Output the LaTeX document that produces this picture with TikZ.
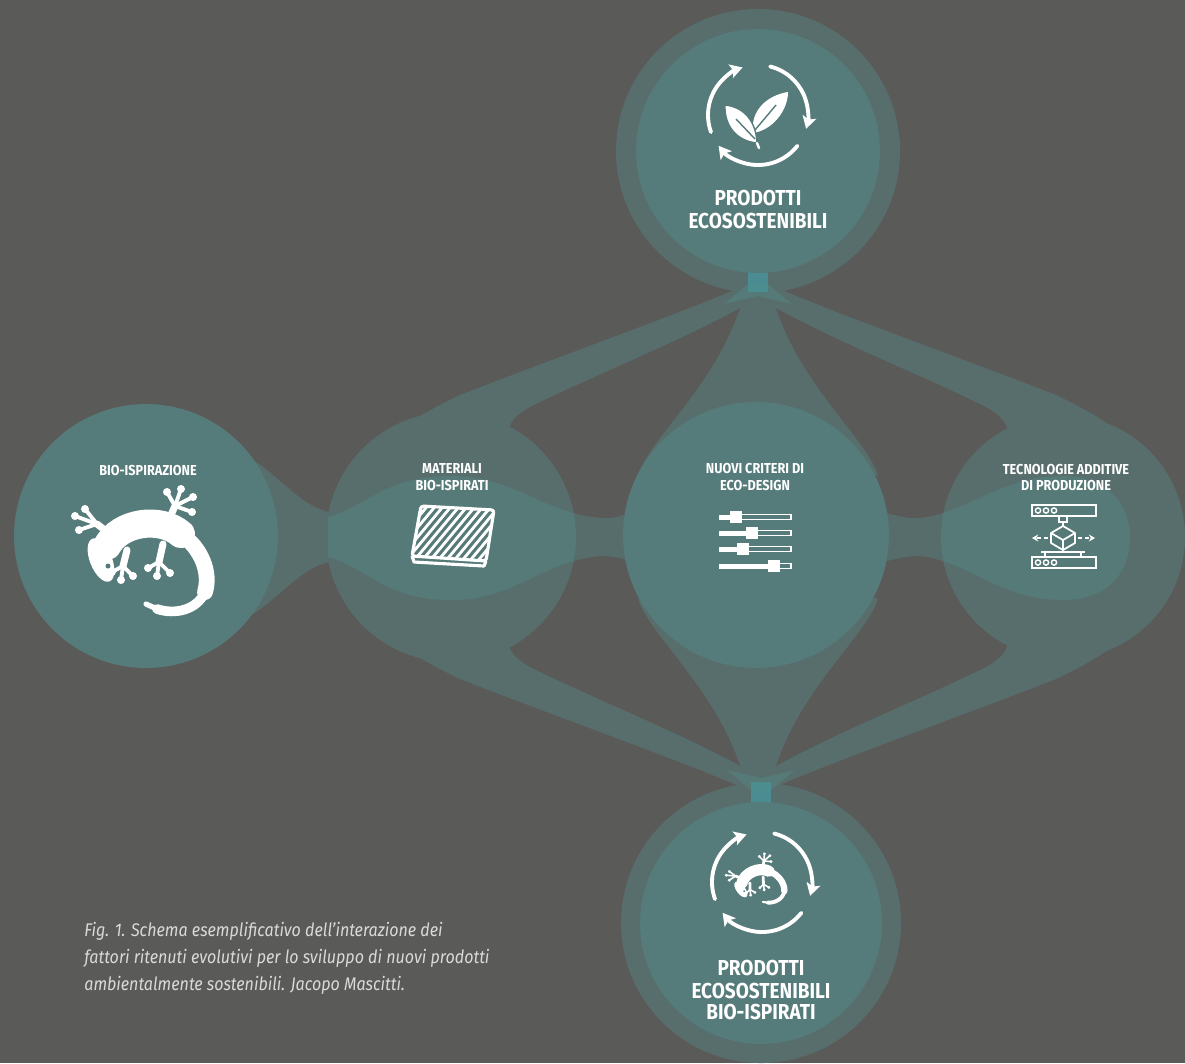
\documentclass[tikz,border=0pt]{standalone}
\usepackage{fontspec}
\setmainfont{Fira Sans}[FakeStretch=0.88]
\usetikzlibrary{arrows.meta}

\definecolor{bggrey}{HTML}{5A5A58}
\definecolor{haze}{HTML}{586E6C}
\definecolor{seafill}{HTML}{50918F}
\definecolor{solidteal}{HTML}{557B7A}
\definecolor{neckteal}{HTML}{4A8C91}
\definecolor{capgrey}{HTML}{DADADA}

% one of the four swept bands, drawn from the top hub towards the left
\newcommand{\upperband}{(-10,-253) .. controls (-68,-227) and (-198,-181) .. (-298,-142)
  .. controls (-336,-124) and (-368,-104) .. (-390,-80)
  -- (-358,-37) -- (-238,-82)
  .. controls (-258,-102) and (-253,-119) .. (-220,-134)
  .. controls (-150,-168) and (-55,-205) .. (10,-245) -- cycle}
% lobe between a round hub and the central circle
\newcommand{\centrallobe}{(-10,-258) .. controls (-30,-160) and (-105,-105) .. (-120,-62)
  -- (0,-20) -- (120,-62)
  .. controls (105,-105) and (30,-160) .. (10,-258) -- cycle}

% gecko silhouette, local axes with y up; #1 scales the strokes
\newcommand{\gecko}[1]{%
  \fill[white, rotate around={-22:(-44,-18)}] (-44,-18) ellipse [x radius=11, y radius=23];
  \draw[white, line cap=round, line width=#1*16pt] (-38,-4) .. controls (-25,20) and (15,26) .. (36,8);
  \draw[white, line cap=round, line width=#1*9pt] (36,8) .. controls (56,-6) and (66,-30) .. (60,-50);
  \draw[white, line cap=round, line width=#1*5.5pt] (60,-50) .. controls (52,-68) and (30,-73) .. (12,-67);
  \draw[white, line cap=round, line width=#1*3pt] (12,-67) -- (1,-62);
  \draw[white, line cap=round, line join=round, line width=#1*4pt]
    (-30,4) -- (-48,18) (-18,-8) -- (-22,-24) (22,18) -- (30,36) (18,-2) -- (14,-20);
  \foreach \ax/\ay/\tx/\ty in {-48/18/-70/26, -48/18/-66/12, -48/18/-60/33,
      -22/-24/-33/-30, -22/-24/-24/-38, -22/-24/-12/-34,
      30/36/22/50, 30/36/36/53, 30/36/48/45, 30/36/47/30,
      14/-20/3/-26, 14/-20/12/-34, 14/-20/25/-31}{
    \draw[white, line cap=round, line width=#1*2.2pt] (\ax,\ay) -- (\tx,\ty);
    \fill[white] (\tx,\ty) circle [radius=4];
  }
  \fill[solidteal] (-37,-24) circle [radius=2.5];
}

% three arrows running round in a circle
\newcommand{\cyclearrows}{%
  \draw[glyph, -{Stealth[length=7pt, width=8pt, inset=1.5pt]}] (200:50) arc[start angle=200, end angle=108, radius=50];
  \draw[glyph, -{Stealth[length=7pt, width=8pt, inset=1.5pt]}] (76:50) arc[start angle=76, end angle=-16, radius=50];
  \draw[glyph, -{Stealth[length=7pt, width=8pt, inset=1.5pt]}] (-38:50) arc[start angle=-38, end angle=-142, radius=50];
}

\begin{document}
\begin{tikzpicture}[x=0.02cm, y=-0.02cm,
  hub/.style={circle, fill=solidteal, inner sep=0pt},
  lbl/.style={text=white, font=\bfseries\fontsize{8.2}{9.5}\selectfont, inner sep=0pt, anchor=base},
  biglbl/.style={text=white, font=\bfseries\fontsize{12.3}{13}\selectfont, inner sep=0pt, anchor=base},
  glyph/.style={white, line width=2.2pt, line cap=round},
  caption/.style={text=capgrey, font=\itshape\fontsize{10.4}{15}\selectfont, inner sep=0pt, anchor=base west}]

\useasboundingbox (0,0) rectangle (1185,1063);
\clip (0,0) rectangle (1185,1063);
\fill[bggrey] (0,0) rectangle (1185,1063);

% translucent layer: rings, side circles, bands
\fill[haze] (758,151) circle [radius=142];
\fill[haze] (761,923) circle [radius=140];
\fill[haze] (451,537) circle [radius=125];
\fill[haze] (1063,537) circle [radius=122];
\fill[haze] (245,455) .. controls (285,478) and (300,510) .. (340,514)
  -- (340,560) .. controls (300,564) and (285,596) .. (245,619) -- cycle;
\begin{scope}[shift={(758,537)}]
  \foreach \sx/\sy in {1/1,-1/1,1/-1,-1/-1}
    \fill[haze, xscale=\sx, yscale=\sy] \upperband;
  \fill[haze] \centrallobe;
  \fill[haze, yscale=-1] \centrallobe;
\end{scope}

% lighter horizontal stream
\fill[seafill, fill opacity=0.35] (328,517) .. controls (370,505) and (385,476) .. (451,476)
  .. controls (515,476) and (540,512) .. (600,518) .. controls (615,519) and (625,515) .. (640,510)
  -- (640,564) .. controls (625,559) and (615,556) .. (600,556)
  .. controls (540,562) and (515,600) .. (451,600)
  .. controls (385,600) and (370,569) .. (328,557) -- cycle;
\fill[seafill, fill opacity=0.35] (875,510) .. controls (895,515) and (905,519) .. (920,518)
  .. controls (970,512) and (1000,476) .. (1063,476)
  .. controls (1108,476) and (1130,505) .. (1130,538)
  .. controls (1130,572) and (1108,600) .. (1063,600)
  .. controls (1000,600) and (970,562) .. (920,556)
  .. controls (905,556) and (895,559) .. (875,564) -- cycle;

% necks under the top and bottom hubs
\fill[neckteal] (748,268) rectangle (768,292);
\fill[seafill, fill opacity=0.35] (748,284) -- (768,284) -- (792,304) -- (758,296) -- (724,304) -- cycle;
\fill[neckteal] (751,782) rectangle (771,806);
\fill[seafill, fill opacity=0.35] (751,790) -- (771,790) -- (795,770) -- (761,778) -- (727,770) -- cycle;

% solid hubs
\node[hub, minimum size=4.88cm] (top) at (758,151) {};
\node[hub, minimum size=4.84cm] (bottom) at (761,923) {};
\node[hub, minimum size=5.28cm] (bio) at (146,536) {};
\node[hub, minimum size=5.32cm] (design) at (756,535) {};

% labels
\node[biglbl] (topA) at (758,205) {PRODOTTI};
\node[biglbl] (topB) at (758,228) {ECOSOSTENIBILI};
\node[lbl] (bioL) at (148,475) {BIO-ISPIRAZIONE};
\node[lbl] (matA) at (452,473) {MATERIALI};
\node[lbl] (matB) at (452,490) {BIO-ISPIRATI};
\node[lbl] (crA) at (755,473) {NUOVI CRITERI DI};
\node[lbl] (crB) at (755,490) {ECO-DESIGN};
\node[lbl] (tecA) at (1066,474) {TECNOLOGIE ADDITIVE};
\node[lbl] (tecB) at (1066,490) {DI PRODUZIONE};
\node[biglbl] (botA) at (761,975) {PRODOTTI};
\node[biglbl] (botB) at (761,998) {ECOSOSTENIBILI};
\node[biglbl] (botC) at (761,1019) {BIO-ISPIRATI};

% recycling sign with leaves
\begin{scope}[shift={(758,115)}, yscale=-1]
  \cyclearrows
  \fill[white] (-5,-18) .. controls (-8,5) and (10,20) .. (30,23) .. controls (30,5) and (15,-15) .. cycle;
  \draw[solidteal, line width=0.8pt] (-3,-15) -- (18,10);
  \fill[white, draw=solidteal, line width=0.8pt] (-1,-28) .. controls (-22,-26) and (-34,-10) .. (-33,10)
    .. controls (-14,8) and (-2,-6) .. cycle;
  \draw[solidteal, line width=0.8pt] (-3,-24) -- (-22,-4);
  \draw[white, line width=1.4pt, line cap=round] (-1,-28) -- (1,-33);
\end{scope}

% recycling sign with gecko
\begin{scope}[shift={(762,882)}, yscale=-1]
  \cyclearrows
\end{scope}
\begin{scope}[shift={(756,878)}, scale=0.4, yscale=-1, rotate=-15]
  \gecko{0.4}
\end{scope}

% gecko
\begin{scope}[shift={(145,542)}, yscale=-1]
  \gecko{1}
\end{scope}

% hatched plate
\begin{scope}
  \clip (421,506) -- (494,510) -- (486,561) -- (412,556) -- cycle;
  \foreach \k in {-10,...,10}
    \draw[white, line width=1.6pt] (453+\k*8-40,581) -- (453+\k*8+40,485);
\end{scope}
\draw[white, line width=1.8pt, line join=round, rounded corners=1.5pt]
  (421,506) -- (494,510) -- (486,561) -- (412,556) -- cycle;
\draw[white, line width=1.8pt, line join=round] (412,556) -- (414,562) -- (484,566) -- (486,561);

% sliders
\foreach \ry/\kx in {517/736, 533/752, 549/743, 566/774}{
  \fill[white] (719,\ry-2.5) rectangle (\kx,\ry+2.5);
  \draw[white, line width=0.7pt] (\kx,\ry-2.3) rectangle (791,\ry+2.3);
  \fill[white] (\kx-6,\ry-6) rectangle (\kx+6,\ry+6);
}

% printer
\draw[white, line width=1pt] (1032,505) rectangle (1096,516);
\foreach \cx in {1038,1046,1054}
  \draw[white, line width=0.8pt] (\cx,510.5) circle [radius=2.6];
\draw[white, line width=1pt] (1059,516) rectangle (1067,522) (1063,522) -- (1063,526);
\draw[white, line width=1pt, line join=round] (1063,526) -- (1075,533) -- (1075,543) -- (1063,550)
  -- (1051,543) -- (1051,533) -- cycle (1051,533) -- (1063,540) -- (1075,533) (1063,540) -- (1063,550);
\draw[white, line width=1pt, dash pattern=on 2.5pt off 1.5pt, -{Stealth[length=3.5pt, width=4pt]}] (1048,538) -- (1032,538);
\draw[white, line width=1pt, dash pattern=on 2.5pt off 1.5pt, -{Stealth[length=3.5pt, width=4pt]}] (1078,538) -- (1095,538);
\draw[white, line width=1pt] (1041,552) -- (1085,552) (1045,552) -- (1045,557) (1081,552) -- (1081,557);
\draw[white, line width=1pt] (1032,557) rectangle (1096,568);
\foreach \cx in {1038,1046,1054}
  \draw[white, line width=0.8pt] (\cx,562.5) circle [radius=2.6];

% caption
\node[caption] (cap1) at (84,936) {Fig. 1. Schema esemplificativo dell’interazione dei};
\node[caption] (cap2) at (84,963) {fattori ritenuti evolutivi per lo sviluppo di nuovi prodotti};
\node[caption] (cap3) at (84,990) {ambientalmente sostenibili. Jacopo Mascitti.};
\end{tikzpicture}
\end{document}
